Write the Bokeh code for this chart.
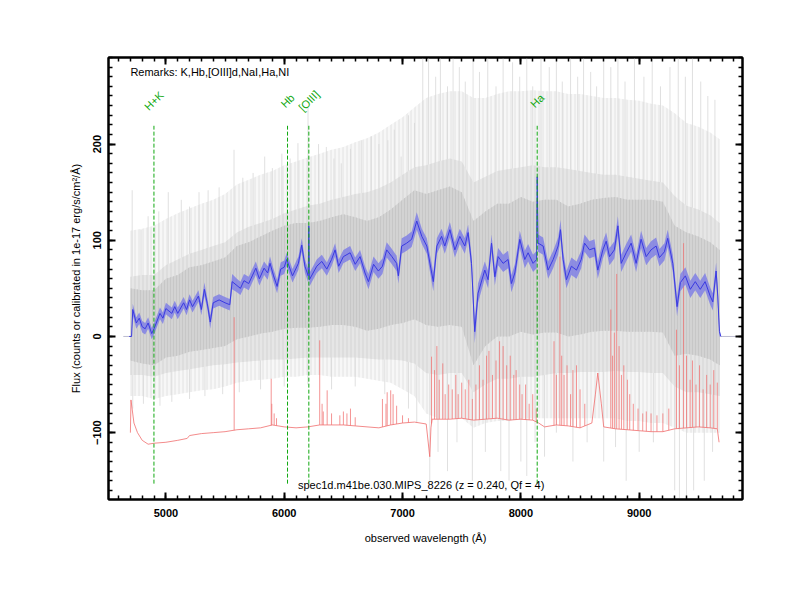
import numpy as np
from bokeh.plotting import figure
from bokeh.models import LinearAxis, SingleIntervalTicker, Range1d, Label, CustomJSTickFormatter
from bokeh.core.properties import value
from bokeh.embed import file_html
from bokeh.resources import INLINE

FONT = "Liberation Sans"

# ---------------- data ----------------
# smoothed spectrum (blue) and its error band
blue_wl = [
    4690, 4710, 4720, 4750, 4775, 4800, 4825, 4850, 4880, 4900,
    4950, 4975, 5000, 5050, 5075, 5100, 5150, 5175, 5200, 5225,
    5275, 5300, 5325, 5350, 5375, 5400, 5450, 5500, 5540, 5560,
    5600, 5630, 5660, 5700, 5730, 5760, 5790, 5830, 5860, 5880,
    5910, 5940, 5970, 6000, 6021, 6070, 6120, 6148, 6175, 6203,
    6208, 6213, 6275, 6318, 6360, 6400, 6430, 6460, 6500, 6557,
    6600, 6641, 6683, 6712, 6755, 6796, 6830, 6866, 6910, 6950,
    6965, 6993, 7035, 7077, 7120, 7163, 7205, 7260, 7290, 7330,
    7357, 7400, 7442, 7484, 7526, 7554, 7583, 7610, 7638, 7695,
    7723, 7752, 7780, 7808, 7850, 7892, 7920, 7949, 7991, 8033,
    8061, 8103, 8133, 8138, 8145, 8188, 8230, 8273, 8315, 8335,
    8357, 8385, 8427, 8470, 8510, 8538, 8580, 8622, 8650, 8693,
    8721, 8749, 8790, 8820, 8848, 8890, 8932, 8974, 9016, 9059,
    9100, 9143, 9171, 9213, 9241, 9284, 9320, 9348, 9390, 9432,
    9474, 9516, 9557, 9600, 9622, 9650, 9664, 9678, 9690]
blue_flux = [
    0, 0, 28, 14, 19, 10, 8, 14, 3, 8,
    24, 19, 29, 24, 31, 24, 35, 28, 38, 31,
    42, 28, 49, 34, 15, 35, 38, 35, 33, 57,
    53, 50, 58, 55, 63, 71, 60, 71, 66, 76,
    63, 52, 70, 72, 80, 63, 76, 95, 73, 63,
    115, 59, 73, 78, 70, 80, 90, 73, 83, 87,
    75, 83, 66, 57, 75, 68, 73, 90, 83, 76,
    63, 94, 97, 101, 120, 104, 94, 57, 94, 104,
    94, 111, 90, 104, 94, 108, 76, 5, 45, 69,
    59, 97, 62, 83, 76, 80, 55, 66, 101, 80,
    87, 76, 80, 166, 97, 94, 69, 80, 94, 111,
    80, 59, 73, 69, 80, 97, 90, 92, 69, 90,
    99, 83, 90, 115, 76, 87, 97, 76, 101, 83,
    90, 94, 82, 88, 102, 76, 31, 56, 63, 49,
    57, 49, 57, 42, 36, 68, 42, 5, 0]
blue_err = [
    0, 0, 6, 6, 6, 6, 6, 6, 6, 6,
    6, 6, 6, 6, 6, 6, 6, 6, 6, 6,
    6, 6, 7, 6, 7, 6, 6, 6, 6, 8,
    7, 7, 7, 7, 7, 7, 7, 7, 7, 7,
    7, 7, 7, 7, 7, 7, 7, 7, 7, 7,
    10, 7, 7, 7, 7, 7, 7, 7, 7, 7,
    7, 7, 7, 8, 8, 8, 8, 8, 8, 8,
    8, 8, 8, 8, 9, 8, 8, 10, 8, 8,
    8, 8, 8, 8, 8, 8, 9, 12, 10, 9,
    9, 9, 9, 9, 9, 9, 9, 9, 9, 9,
    9, 9, 9, 10, 9, 9, 9, 9, 9, 10,
    9, 9, 9, 9, 9, 9, 9, 9, 9, 9,
    9, 9, 9, 10, 9, 9, 9, 9, 9, 9,
    9, 9, 9, 9, 9, 9, 10, 9, 9, 9,
    9, 9, 9, 9, 9, 9, 9, 5, 0]

# zero padding of the raw spectrum at both ends
pad_left_wl = [4640, 4710]
pad_right_wl = [9690, 9872]
pad_flux = [0, 0]

# raw spectrum (grey): dense inner core, looser core and spike envelope, every 100 A
env_wl = [
    4700, 4800, 4900, 5000, 5100, 5200, 5300, 5400, 5500, 5600,
    5700, 5800, 5900, 6000, 6100, 6200, 6300, 6400, 6500, 6600,
    6700, 6800, 6900, 7000, 7100, 7200, 7300, 7400, 7500, 7600,
    7700, 7800, 7900, 8000, 8100, 8200, 8300, 8400, 8500, 8600,
    8700, 8800, 8900, 9000, 9100, 9200, 9300, 9400, 9500, 9600,
    9680]
inner_top = [
    50, 48, 48, 60, 64, 72, 74, 78, 82, 94,
    98, 104, 110, 115, 118, 118, 120, 124, 127, 124,
    120, 124, 132, 142, 152, 148, 152, 156, 150, 120,
    130, 138, 138, 145, 140, 142, 142, 135, 138, 142,
    144, 145, 142, 142, 142, 140, 115, 108, 104, 98,
    90]
inner_bot = [
    -25, -28, -30, -22, -20, -16, -14, -12, -10, -3,
    0, 3, 5, 8, 9, 9, 10, 12, 12, 10,
    6, 8, 12, 14, 18, 12, 10, 12, 10, -30,
    -10, 0, 0, 5, 2, 4, 4, 0, 2, 5,
    6, 6, 5, 5, 5, 4, -20, -18, -20, -24,
    -30]
core_top = [
    62, 64, 64, 74, 80, 86, 90, 94, 98, 108,
    114, 118, 122, 128, 132, 136, 138, 142, 145, 148,
    150, 154, 160, 168, 176, 178, 182, 185, 182, 160,
    166, 172, 174, 176, 178, 176, 176, 174, 172, 170,
    168, 168, 166, 164, 162, 160, 146, 136, 132, 126,
    118]
core_bot = [
    -40, -40, -42, -38, -36, -34, -32, -30, -29, -27,
    -26, -25, -24, -24, -23, -22, -22, -22, -22, -22,
    -23, -24, -24, -25, -28, -38, -40, -38, -38, -58,
    -50, -44, -44, -42, -42, -40, -38, -38, -37, -37,
    -37, -36, -37, -37, -38, -38, -52, -58, -58, -60,
    -62]
outer_top = [
    110, 112, 115, 122, 128, 133, 138, 142, 148, 158,
    163, 168, 172, 178, 182, 186, 190, 194, 197, 202,
    206, 212, 220, 228, 238, 248, 252, 255, 255, 248,
    248, 252, 255, 255, 256, 255, 255, 252, 252, 250,
    248, 248, 246, 245, 242, 240, 232, 222, 218, 212,
    205]
outer_bot = [
    -62, -62, -65, -62, -60, -58, -56, -55, -52, -48,
    -46, -45, -44, -42, -42, -40, -40, -42, -42, -42,
    -44, -46, -48, -55, -62, -80, -85, -85, -85, -95,
    -90, -88, -88, -85, -85, -85, -85, -85, -85, -85,
    -85, -85, -88, -88, -90, -90, -95, -100, -100, -100,
    -100]

# tallest individual grey spikes
gray_up_wl = [
    4715, 4790, 4850, 4940, 5020, 5130, 5200, 5280, 5357, 5450,
    5576, 5650, 5737, 5835, 5900, 5980, 6050, 6116, 6201, 6290,
    6356, 6420, 6482, 6560, 6651, 6735, 6800, 6876, 6930, 6988,
    7050, 7101, 7171, 7220, 7280, 7320, 7380, 7427, 7480, 7530,
    7596, 7650, 7720, 7790, 7850, 7930, 7990, 8050, 8100, 8170,
    8240, 8300, 8350, 8420, 8480, 8530, 8590, 8640, 8700, 8760,
    8820, 8880, 8960, 9040, 9110, 9180, 9260, 9330, 9390, 9450,
    9520, 9580, 9640]
gray_up_val = [
    152, 111, 125, 130, 150, 142, 135, 150, 152, 155,
    194, 165, 170, 187, 175, 190, 185, 201, 239, 200,
    197, 185, 180, 195, 204, 208, 200, 204, 215, 187,
    230, 222, 300, 300, 270, 300, 260, 300, 280, 265,
    300, 275, 300, 260, 300, 285, 270, 300, 260, 300,
    280, 300, 265, 300, 270, 300, 275, 260, 300, 280,
    300, 265, 300, 270, 300, 260, 280, 300, 270, 300,
    265, 250, 246]
gray_dn_wl = [
    4720, 4810, 4950, 5050, 5200, 5330, 5480, 5620, 5800, 6000,
    6200, 6400, 6600, 6850, 7050, 7120, 7230, 7300, 7380, 7460,
    7590, 7700, 7830, 7900, 8000, 8050, 8120, 8200, 8300, 8440,
    8560, 8700, 8800, 8890, 9000, 9120, 9300, 9340, 9400, 9460,
    9550, 9620]
gray_dn_val = [
    -75, -70, -72, -68, -65, -62, -60, -58, -55, -52,
    -50, -55, -52, -60, -75, -90, -150, -120, -140, -110,
    -150, -120, -140, -150, -130, -145, -110, -125, -100, -130,
    -110, -130, -115, -150, -120, -110, -160, -168, -168, -160,
    -150, -120]

# sky / error spectrum (red): continuum plus sky-line spikes
red_wl = [
    4700, 4705, 4730, 4760, 4800, 4850, 4900, 5000, 5100, 5180,
    5200, 5300, 5400, 5500, 5600, 5700, 5800, 5900, 6000, 6100,
    6200, 6300, 6400, 6500, 6600, 6700, 6800, 6900, 7000, 7100,
    7200, 7230, 7240, 7250, 7300, 7400, 7500, 7600, 7700, 7800,
    7900, 8000, 8100, 8150, 8200, 8300, 8400, 8500, 8600, 8630,
    8650, 8680, 8700, 8800, 8900, 9000, 9100, 9200, 9300, 9400,
    9500, 9600, 9660, 9675]
red_val = [
    -100, -66, -90, -100, -108, -112, -111, -110, -108, -106,
    -103, -101, -100, -99, -97, -96, -95, -92, -94, -95,
    -94, -92, -92, -92, -93, -94, -95, -92, -90, -89,
    -91, -125, -95, -86, -86, -86, -85, -87, -86, -85,
    -87, -86, -87, -90, -94, -92, -93, -95, -90, -60,
    -38, -70, -94, -96, -97, -98, -99, -99, -96, -95,
    -94, -95, -96, -110]
sky_wl = [
    5577, 5890, 5895, 5915, 5935, 6300, 6320, 6330, 6363, 6400,
    6470, 6500, 6530, 6560, 6600, 6830, 6860, 6870, 6900, 6920,
    6950, 7000, 7050, 7245, 7270, 7290, 7310, 7340, 7360, 7390,
    7420, 7450, 7470, 7500, 7530, 7560, 7590, 7620, 7650, 7680,
    7710, 7730, 7760, 7790, 7820, 7850, 7880, 7910, 7940, 7960,
    7990, 8010, 8040, 8070, 8100, 8130, 8280, 8300, 8330, 8345,
    8365, 8390, 8420, 8440, 8470, 8500, 8540, 8760, 8775, 8790,
    8810, 8830, 8850, 8870, 8900, 8920, 8950, 8990, 9030, 9060,
    9100, 9150, 9200, 9250, 9315, 9340, 9375, 9400, 9430, 9450,
    9480, 9510, 9540, 9570, 9600, 9630, 9660]
sky_val = [
    20, -44, -70, -80, -85, -4, -70, -78, -56, -80,
    -82, -78, -80, -75, -84, -65, -70, -58, -56, -60,
    -72, -82, -85, -21, -35, -10, -45, -28, -60, -50,
    -55, -40, -60, -48, -55, -45, -65, -50, -30, -45,
    -20, -15, -40, -25, -5, -10, -30, -20, -40, -35,
    -50, -60, -50, -70, -60, -75, -5, -40, 83, -20,
    -40, -30, -60, -35, -30, -55, -70, 28, -20, 4,
    65, -10, -40, -30, -45, -60, -70, -75, -80, -78,
    -80, -82, -80, -75, 7, -30, 97, -20, -45, -25,
    -50, -30, -55, -40, -50, -35, -48]

# redshifted spectral features
line_wl = [4899, 6028, 6208, 8138]
line_names = ["H+K", "Hb", "[OIII]", "Ha"]

remarks = "Remarks: K,Hb,[OIII]d,NaI,Ha,NI"
spec_name = "spec1d.m41be.030.MIPS_8226 (z = 0.240, Qf = 4)"


def arr(a, n):
    return np.asarray(a[:n], float)


def pair(a, b):
    n = min(len(a), len(b))
    return arr(a, n), arr(b, n)


# ---------------- figure ----------------
p = figure(width=800, height=600,
           x_range=Range1d(4515, 9873), y_range=Range1d(-169.5, 290),
           output_backend="svg", toolbar_location=None,
           min_border_left=108, min_border_right=58,
           min_border_top=57, min_border_bottom=101)
p.grid.visible = False
p.outline_line_color = "black"
p.outline_line_width = 2
p.background_fill_color = "white"
p.border_fill_color = "white"
xa = p.below[0]
ya = p.left[0]

# grey raw spectrum
n = min(len(env_wl), len(core_top), len(core_bot), len(outer_top), len(outer_bot),
        len(inner_top), len(inner_bot))
ew = arr(env_wl, n)
p.varea(x=ew, y1=arr(outer_bot, n), y2=arr(outer_top, n),
        fill_color="#f7f7f7", fill_alpha=1.0,
        hatch_pattern="|", hatch_color="#e2e2e2", hatch_scale=4, hatch_weight=1)
gw, gv = pair(gray_up_wl, gray_up_val)
p.segment(x0=gw, y0=0, x1=gw, y1=gv, line_color="#d8d8d8", line_width=0.8)
gw2, gv2 = pair(gray_dn_wl, gray_dn_val)
p.segment(x0=gw2, y0=0, x1=gw2, y1=gv2, line_color="#d8d8d8", line_width=0.8)
p.varea(x=ew, y1=arr(core_bot, n), y2=arr(core_top, n),
        fill_color="#e6e6e6", fill_alpha=1.0,
        hatch_pattern="|", hatch_color="#d4d4d4", hatch_scale=4, hatch_weight=1)
p.varea(x=ew, y1=arr(inner_bot, n), y2=arr(inner_top, n),
        fill_color="#d3d3d3", fill_alpha=1.0,
        hatch_pattern="|", hatch_color="#c7c7c7", hatch_scale=3, hatch_weight=1)
p.line(pad_left_wl, pad_flux, line_color="#bcbcd0", line_width=1)
p.line(pad_right_wl, pad_flux, line_color="#bcbcd0", line_width=1)

# red sky spectrum
rw, rv = pair(red_wl, red_val)
p.line(rw, rv, line_color="#f07070", line_width=0.9, line_alpha=0.9)
sw, sv = pair(sky_wl, sky_val)
sb = np.interp(sw, rw, rv)
p.segment(x0=sw, y0=sb, x1=sw, y1=sv, line_color="#f07070", line_width=1, line_alpha=0.75)

# blue smoothed spectrum with error band
m = min(len(blue_wl), len(blue_flux), len(blue_err))
bw, bf, be = arr(blue_wl, m), arr(blue_flux, m), arr(blue_err, m)
p.varea(x=bw, y1=bf - be, y2=bf + be, fill_color="#7c7ce6", fill_alpha=0.8)
p.line(bw, bf, line_color="#3a3ae0", line_width=1)

# feature markers
GREEN = "#10a810"
p.segment(x0=line_wl, y0=-153, x1=line_wl, y1=219, line_color=GREEN,
          line_width=1, line_dash="4 2")
p.text(x=line_wl, y=245, text=line_names, angle=np.pi / 4,
       text_align="center", text_baseline="middle",
       text_font=value(FONT), text_font_size="11px", text_color=GREEN)

p.add_layout(Label(x=4700, y=275, text=remarks, text_baseline="middle",
                   text_font=FONT, text_font_size="11px", text_color="black"))
p.add_layout(Label(x=6116, y=-154.5, text=spec_name, text_baseline="middle",
                   text_font=FONT, text_font_size="11px", text_color="black"))

# ---------------- axes ----------------
top_ax = LinearAxis()
right_ax = LinearAxis()
p.add_layout(top_ax, "above")
p.add_layout(right_ax, "right")


def style(ax, interval, labels):
    ax.ticker = SingleIntervalTicker(interval=interval, num_minor_ticks=10)
    ax.axis_line_color = "black"
    ax.axis_line_width = 2
    ax.major_tick_in = 7
    ax.major_tick_out = 0
    ax.major_tick_line_width = 2
    ax.major_tick_line_color = "black"
    ax.minor_tick_in = 4
    ax.minor_tick_out = 0
    ax.minor_tick_line_width = 1.5
    ax.minor_tick_line_color = "black"
    ax.major_label_text_font = FONT
    ax.major_label_text_font_style = "bold"
    ax.major_label_text_color = "black"
    ax.major_label_text_font_size = "11px"
    if not labels:
        ax.formatter = CustomJSTickFormatter(code="return ''")
        ax.major_label_standoff = 0


style(xa, 1000, True)
style(top_ax, 1000, False)
style(ya, 100, True)
style(right_ax, 100, False)

xa.major_label_standoff = 9
xa.axis_label = "observed wavelength (\u00c5)"
xa.axis_label_standoff = 12
xa.axis_label_text_font = FONT
xa.axis_label_text_font_size = "11px"
xa.axis_label_text_font_style = "normal"
xa.axis_label_text_color = "black"

ya.major_label_orientation = "vertical"
ya.major_label_standoff = 7
ya.axis_label = "Flux (counts or calibrated in 1e-17 erg/s/cm\u00b2/\u00c5)"
ya.axis_label_standoff = 9
ya.axis_label_text_font = FONT
ya.axis_label_text_font_size = "11px"
ya.axis_label_text_font_style = "normal"
ya.axis_label_text_color = "black"

open("out.html", "w").write(file_html(p, INLINE))
